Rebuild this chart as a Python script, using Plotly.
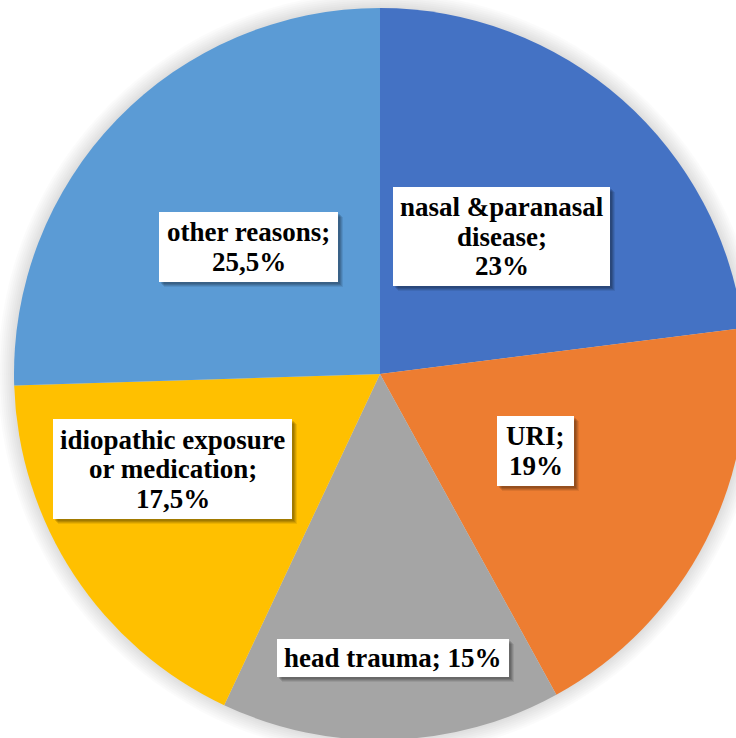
import plotly.graph_objects as go

# Causes of olfactory dysfunction (share of patients, %)
categories = [
    "nasal &paranasal disease",
    "URI",
    "head trauma",
    "idiopathic exposure or medication",
    "other reasons",
]
values = [23, 19, 15, 17.5, 25.5]

# How each data label is wrapped (the value line is appended below)
label_lines = [
    ["nasal &paranasal", "disease;"],
    ["URI;"],
    [],
    ["idiopathic exposure", "or medication;"],
    ["other reasons;"],
]
inline_value = [False, False, True, False, False]

colors = ["#4472C4", "#ED7D31", "#A5A5A5", "#FFC000", "#5B9BD5"]

# ---- layout geometry (pixels) ----
W, H = 760, 760
CX, CY, R = 380, 374, 366

# label box centres and sizes (pixels)
box_centers = [(501.5, 236.5), (535.5, 451), (393, 658), (172.5, 469), (248.5, 247)]
box_sizes = [(217, 99), (77, 70), (232, 38), (239, 100), (179, 70)]
LINE_GAP = 29.5
FONT = dict(family="Liberation Serif, Times New Roman, serif", size=27,
            color="black", weight="bold")


def px(x):
    return x / W


def py(y):
    return 1 - y / H


def fmt_pct(v):
    return f"{v:g}".replace(".", ",") + "%"


fig = go.Figure()
fig.add_trace(
    go.Pie(
        labels=categories,
        values=values,
        sort=False,
        direction="clockwise",
        rotation=0,
        marker=dict(colors=colors, line=dict(width=0)),
        textinfo="none",
        hoverinfo="label+percent",
        showlegend=False,
        domain=dict(x=[px(CX - R), px(CX + R)], y=[py(CY + R), py(CY - R)]),
    )
)

shapes = []
# soft glow around the pie
for k in range(1, 9):
    r = R + 2 * k
    shapes.append(
        dict(
            type="circle", xref="paper", yref="paper", layer="below",
            x0=px(CX - r), x1=px(CX + r), y0=py(CY + r), y1=py(CY - r),
            fillcolor="rgba(0,0,0,0.016)", line=dict(width=0),
        )
    )

annotations = []
for i, cat in enumerate(categories):
    bx, by = box_centers[i]
    bw, bh = box_sizes[i]
    # drop shadow of the label box
    for off, a in [(5, 0.08), (4, 0.10), (3, 0.12), (2, 0.12)]:
        shapes.append(
            dict(
                type="rect", xref="paper", yref="paper", layer="above",
                x0=px(bx - bw / 2 + off), x1=px(bx + bw / 2 + off),
                y0=py(by + bh / 2 + off), y1=py(by - bh / 2 + off),
                fillcolor=f"rgba(0,0,0,{a})", line=dict(width=0),
            )
        )
    shapes.append(
        dict(
            type="rect", xref="paper", yref="paper", layer="above",
            x0=px(bx - bw / 2), x1=px(bx + bw / 2),
            y0=py(by + bh / 2), y1=py(by - bh / 2),
            fillcolor="white", line=dict(width=0),
        )
    )

    if inline_value[i]:
        lines = [f"{cat}; {fmt_pct(values[i])}"]
    else:
        lines = label_lines[i] + [fmt_pct(values[i])]
    n = len(lines)
    for j, txt in enumerate(lines):
        ly = by + (j - (n - 1) / 2) * LINE_GAP
        annotations.append(
            dict(
                text=txt, xref="paper", yref="paper",
                x=px(bx), y=py(ly), xanchor="center", yanchor="middle",
                showarrow=False, font=FONT,
            )
        )

fig.update_layout(
    width=W,
    height=H,
    margin=dict(l=0, r=0, t=0, b=0),
    paper_bgcolor="white",
    plot_bgcolor="white",
    shapes=shapes,
    annotations=annotations,
)

fig.write_html(
    "out.html",
    config={"displayModeBar": False},
    post_script="document.documentElement.style.overflow='hidden';document.body.style.overflow='hidden';document.body.style.margin='0';",
)
